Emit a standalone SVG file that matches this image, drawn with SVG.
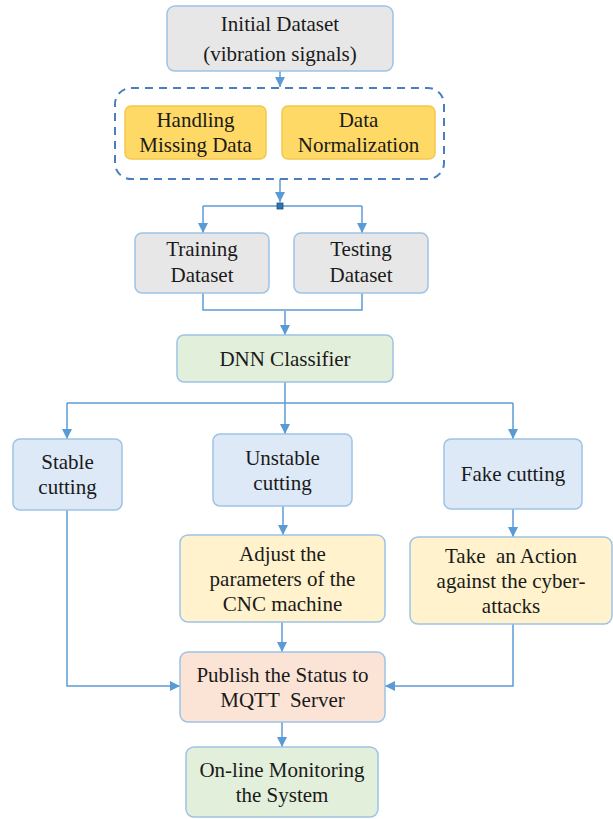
<svg xmlns="http://www.w3.org/2000/svg" width="613" height="819" viewBox="0 0 613 819">
<style>
.box{stroke:#9dc3e6;stroke-width:1.5}
.gray{fill:#e7e7e7}
.gold{fill:#ffd966;stroke:#f2c84b}
.blue{fill:#dde9f6}
.green{fill:#e2efda}
.cream{fill:#fff2cc}
.pink{fill:#fbe4d6}
.c{fill:none;stroke:#5b9bd5;stroke-width:1.5}
text{font-family:"Liberation Serif","Times New Roman",serif;font-size:21px;fill:#1a1a1a;text-anchor:middle;white-space:pre}
</style>
<defs>
<marker id="ah" viewBox="0 0 10 10" refX="10" refY="5" markerWidth="10" markerHeight="10" markerUnits="userSpaceOnUse" orient="auto">
<path d="M0,0 L10,5 L0,10 z" fill="#5b9bd5"/>
</marker>
</defs>
<rect width="613" height="819" fill="#ffffff"/>
<g id="connectors">
<path class="c" d="M280,71 V87" marker-end="url(#ah)"/>
<path class="c" d="M280,179 V202" marker-end="url(#ah)"/>
<path class="c" d="M203,206 H362"/>
<path class="c" d="M203,206 V233" marker-end="url(#ah)"/>
<path class="c" d="M362,206 V233" marker-end="url(#ah)"/>
<path class="c" d="M203,293 V310 H362 V293"/>
<path class="c" d="M285,311 V335" marker-end="url(#ah)"/>
<path class="c" d="M285,382 V434" marker-end="url(#ah)"/>
<path class="c" d="M67,403 H513"/>
<path class="c" d="M67,403 V439" marker-end="url(#ah)"/>
<path class="c" d="M513,403 V439" marker-end="url(#ah)"/>
<path class="c" d="M283,506 V535" marker-end="url(#ah)"/>
<path class="c" d="M513,509 V537" marker-end="url(#ah)"/>
<path class="c" d="M282,622 V652" marker-end="url(#ah)"/>
<path class="c" d="M67,510 V686 H180" marker-end="url(#ah)"/>
<path class="c" d="M513,624 V686 H385" marker-end="url(#ah)"/>
<path class="c" d="M282,722 V747" marker-end="url(#ah)"/>
<rect x="277" y="203" width="6" height="6" fill="#2e75b6" stroke="#1f4e79" stroke-width="0.8"/>
</g>
<g id="initial-dataset">
<rect class="box gray" x="167" y="6" width="226" height="65" rx="8"/>
<text x="280" y="31">Initial Dataset</text>
<text x="280" y="61">(vibration signals)</text>
</g>
<g id="preprocessing">
<rect x="115" y="88" width="329" height="91" rx="16" fill="none" stroke="#4a7fbf" stroke-width="2" stroke-dasharray="8,6"/>
</g>
<g id="handling-missing">
<rect class="box gold" x="125" y="106" width="141" height="53" rx="6"/>
<text x="195.5" y="127">Handling</text>
<text x="195.5" y="152">Missing Data</text>
</g>
<g id="data-normalization">
<rect class="box gold" x="282" y="106" width="153" height="53" rx="6"/>
<text x="358.5" y="127">Data</text>
<text x="358.5" y="152">Normalization</text>
</g>
<g id="training">
<rect class="box gray" x="135" y="233" width="134" height="60" rx="7"/>
<text x="202" y="256">Training</text>
<text x="202" y="282">Dataset</text>
</g>
<g id="testing">
<rect class="box gray" x="294" y="233" width="134" height="60" rx="7"/>
<text x="361" y="256">Testing</text>
<text x="361" y="282">Dataset</text>
</g>
<g id="dnn">
<rect class="box green" x="177" y="335" width="216" height="47" rx="7"/>
<text x="285" y="366">DNN Classifier</text>
</g>
<g id="stable">
<rect class="box blue" x="13" y="439" width="109" height="71" rx="7"/>
<text x="67.5" y="469">Stable</text>
<text x="67.5" y="494">cutting</text>
</g>
<g id="unstable">
<rect class="box blue" x="213" y="434" width="139" height="72" rx="7"/>
<text x="282.5" y="465">Unstable</text>
<text x="282.5" y="490">cutting</text>
</g>
<g id="fake">
<rect class="box blue" x="444" y="439" width="138" height="70" rx="7"/>
<text x="513" y="481">Fake cutting</text>
</g>
<g id="adjust">
<rect class="box cream" x="180" y="535" width="205" height="87" rx="8"/>
<text x="282.5" y="560.5">Adjust the</text>
<text x="282.5" y="585.5">parameters of the</text>
<text x="282.5" y="610.5">CNC machine</text>
</g>
<g id="take-action">
<rect class="box cream" x="410" y="537" width="202" height="87" rx="8"/>
<text x="511" y="562.5">Take  an Action</text>
<text x="511" y="587.5">against the cyber-</text>
<text x="511" y="612.5">attacks</text>
</g>
<g id="publish">
<rect class="box pink" x="180" y="652" width="205" height="70" rx="8"/>
<text x="282.5" y="681.5">Publish the Status to</text>
<text x="282.5" y="706.5">MQTT  Server</text>
</g>
<g id="online">
<rect class="box green" x="186" y="747" width="192" height="70" rx="8"/>
<text x="282" y="777">On-line Monitoring</text>
<text x="282" y="802">the System</text>
</g>
</svg>
